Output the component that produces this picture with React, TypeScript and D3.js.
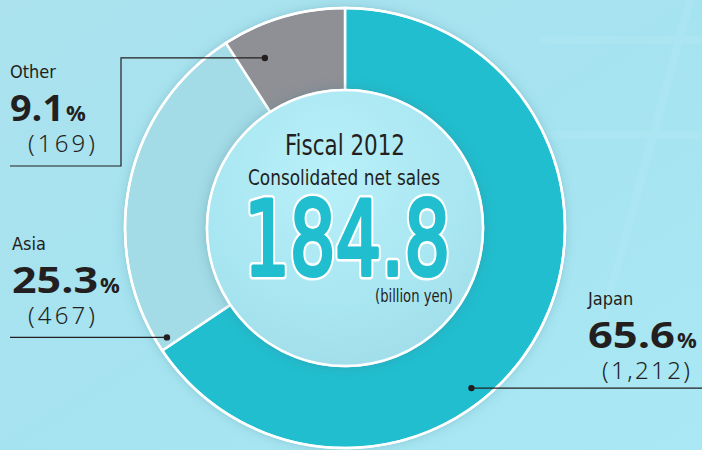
import * as d3 from "d3";

const regions = ["Japan", "Asia", "Other"];
const shares = [65.6, 25.3, 9.1];
const salesLabels = ["1,212", "467", "169"];
const sliceColors = ["#21becf", "#a3dbe6", "#8f9095"];
// where the leader dot sits inside each slice (fraction of its sweep, radius)
const dotFraction = [0.6, 0.025, 0.23];
const dotRadius = [204, 209, 188];

const total = "184.8";

const W = 702;
const H = 450;
const cx = 345;
const cy = 228;
const outerR = 220;
const innerR = 138;

const narrow = "'Liberation Sans Narrow', 'DejaVu Sans Condensed', sans-serif";
const bold = "'Open Sans', 'Noto Sans', sans-serif";
const light = "'Noto Sans', 'Open Sans', sans-serif";

type Slice = { region: string; share: number; sales: string; i: number };

const App = () => {
  const data: Slice[] = regions.map((r, i) => ({ region: r, share: shares[i], sales: salesLabels[i], i }));
  const pie = d3.pie<Slice>().value((d) => d.share).sort(null);
  const arcs = pie(data);
  const arc = d3.arc<d3.PieArcDatum<Slice>>().innerRadius(innerR).outerRadius(outerR);

  const dot = (a: d3.PieArcDatum<Slice>) => {
    const ang = a.startAngle + (a.endAngle - a.startAngle) * dotFraction[a.data.i];
    const r = dotRadius[a.data.i];
    return [cx + r * Math.sin(ang), cy - r * Math.cos(ang)];
  };
  const [jx, jy] = dot(arcs[0]);
  const [ax, ay] = dot(arcs[1]);
  const [ox, oy] = dot(arcs[2]);

  const label = (x: number, y: number, i: number, pctW: number, salesX: number, salesW: number) => (
    <g key={regions[i]}>
      <text x={x} y={y} fontFamily={narrow} fontSize={18} fill="#231f20">
        {regions[i]}
      </text>
      <text x={x} y={y + 43} fontFamily={bold} fontWeight={700} fill="#231f20">
        <tspan fontSize={35} textLength={pctW} lengthAdjust="spacingAndGlyphs">
          {shares[i].toFixed(1)}
        </tspan>
        <tspan fontSize={22} dx={2}>%</tspan>
      </text>
      <text
        x={salesX}
        y={y + 74}
        fontFamily={light}
        fontWeight={300}
        fontSize={24}
        fill="#231f20"
        textLength={salesW}
        lengthAdjust="spacing"
      >
        ({salesLabels[i]})
      </text>
    </g>
  );

  const bigNum = {
    x: 347,
    y: 275,
    textAnchor: "middle" as const,
    fontFamily: narrow,
    fontSize: 104,
    textLength: 206,
    lengthAdjust: "spacingAndGlyphs" as const,
    strokeLinejoin: "round" as const,
  };

  return (
    <svg width={W} height={H} style={{ position: "absolute", left: 0, top: 0 }}>
      <defs>
        <linearGradient id="bg" x1="0" y1="0" x2="1" y2="1">
          <stop offset="0" stopColor="#abe2ee" />
          <stop offset="0.5" stopColor="#a6e3f0" />
          <stop offset="1" stopColor="#a9e8f4" />
        </linearGradient>
        <radialGradient id="hole" cx="0.45" cy="0.3" r="0.8">
          <stop offset="0" stopColor="#b9f0f9" />
          <stop offset="0.6" stopColor="#a8e6f1" />
          <stop offset="1" stopColor="#9edbe7" />
        </radialGradient>
        <filter id="shadow" x="-20%" y="-20%" width="140%" height="140%">
          <feDropShadow dx="0" dy="0" stdDeviation="6" floodColor="#3a7d8c" floodOpacity="0.35" />
        </filter>
      </defs>
      <rect width={W} height={H} fill="url(#bg)" />
      <g opacity={0.15} stroke="#c4f4fb" strokeWidth={8} fill="none">
        <line x1={540} y1={40} x2={720} y2={40} />
        <line x1={520} y1={135} x2={720} y2={135} />
        <line x1={690} y1={0} x2={600} y2={330} />
      </g>

      <g transform={`translate(${cx},${cy})`}>
        <circle r={outerR} fill="#ffffff" filter="url(#shadow)" />
        {arcs.map((a) => (
          <path key={a.data.region} d={arc(a) ?? undefined} fill={sliceColors[a.data.i]} stroke="#ffffff" strokeWidth={2.5} />
        ))}
        <circle r={outerR} fill="none" stroke="#ffffff" strokeWidth={2.5} />
        <circle r={innerR} fill="url(#hole)" stroke="#ffffff" strokeWidth={2.5} filter="url(#shadow)" />
      </g>

      <text x={cx} y={155} textAnchor="middle" fontFamily={narrow} fontSize={29} fill="#231f20" textLength={120} lengthAdjust="spacingAndGlyphs">
        Fiscal 2012
      </text>
      <text x={cx - 1} y={185} textAnchor="middle" fontFamily={narrow} fontSize={22} fill="#231f20" textLength={192} lengthAdjust="spacingAndGlyphs">
        Consolidated net sales
      </text>
      <text {...bigNum} fill="#ffffff" stroke="#ffffff" strokeWidth={9}>
        {total}
      </text>
      <text {...bigNum} fill="#21becf" stroke="#21becf" strokeWidth={4}>
        {total}
      </text>
      <text x={453} y={302} textAnchor="end" fontFamily={narrow} fontSize={18} fill="#231f20" textLength={78} lengthAdjust="spacingAndGlyphs">
        (billion yen)
      </text>

      <g stroke="#231f20" strokeWidth={1.2} fill="none">
        <polyline points={`${ox},${oy} 121,${oy} 121,166 10,166`} />
        <line x1={ax} y1={ay} x2={10} y2={ay} />
        <line x1={jx} y1={jy} x2={W} y2={jy} />
      </g>
      <g fill="#231f20">
        <circle cx={ox} cy={oy} r={3.2} />
        <circle cx={ax} cy={ay} r={3.2} />
        <circle cx={jx} cy={jy} r={3.2} />
      </g>

      {label(10, 78, 2, 54, 28, 67)}
      {label(12, 250, 1, 86, 28, 67)}
      {label(588, 305, 0, 87, 602, 88)}
    </svg>
  );
};

export default App;
